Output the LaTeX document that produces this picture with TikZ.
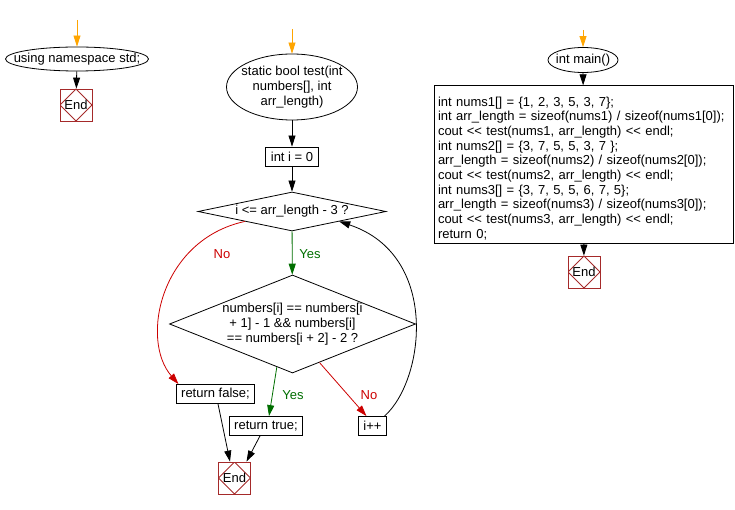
\documentclass[tikz,border=0pt]{standalone}
\usepackage{fontspec}
\setmainfont{Liberation Sans}
\usetikzlibrary{arrows.meta,shapes.geometric}
\definecolor{endred}{RGB}{165,42,42}
\definecolor{nored}{RGB}{204,0,0}
\definecolor{yesgreen}{RGB}{0,110,0}
\definecolor{startorange}{RGB}{255,165,0}

\begin{document}
\begin{tikzpicture}[x=1pt, y=-1pt, line width=0.8pt,
    every node/.style={font=\fontsize{13}{14.7}\selectfont},
    flow/.style={-{Triangle[length=11pt,width=7pt]}},
    startflow/.style={flow, draw=startorange},
    yesflow/.style={flow, draw=yesgreen},
    noflow/.style={flow, draw=nored},
    startell/.style={draw, ellipse, inner sep=0pt},
    procbox/.style={draw, rectangle, inner xsep=5pt, inner ysep=0pt, minimum height=19pt},
    decision/.style={draw, diamond, inner sep=0pt},
    endbox/.style={draw=endred, rectangle, minimum size=32pt, inner sep=0pt,
      path picture={\draw[endred] (path picture bounding box.north) -- (path picture bounding box.east)
        -- (path picture bounding box.south) -- (path picture bounding box.west) -- cycle;}},
    yeslbl/.style={text=yesgreen},
    nolbl/.style={text=nored}]
  \useasboundingbox (0,0) rectangle (735,510);

  % using namespace std
  \coordinate (s1) at (77,20);
  \node[startell, inner xsep=-14pt, minimum width=143pt, minimum height=24pt] (ns) at (77,59) {using namespace std;};
  \node[endbox] (end1) at (76,105) {End};
  \draw[startflow] (s1) -- (ns);
  \draw[flow] (ns) -- (end1);

  % test()
  \coordinate (s2) at (292,29);
  \node[startell, inner xsep=-10pt, minimum width=131pt, minimum height=66pt, align=center] (test) at (292,87)
    {static bool test(int\\numbers[], int\\arr\_length)};
  \node[procbox] (init) at (292,156.5) {int i = 0};
  \node[decision, aspect=4.8, minimum width=188pt, minimum height=39pt] (loop) at (292,211.5)
    {i <= arr\_length - 3 ?};
  \node[decision, aspect=2.5, minimum width=246pt, minimum height=98pt, align=center] (check) at (292.5,324)
    {numbers[i] == numbers[i\\+ 1] - 1 \&\& numbers[i]\\== numbers[i + 2] - 2 ?};
  \node[procbox] (falseret) at (215.5,394) {return false;};
  \node[procbox] (trueret) at (266,426) {return true;};
  \node[procbox] (incr) at (372.5,426) {i++};
  \node[endbox] (end2) at (234.5,478) {End};
  \node[yeslbl] (yes1) at (310,254) {Yes};
  \node[nolbl] (no1) at (222,254) {No};
  \node[yeslbl] (yes2) at (293,395) {Yes};
  \node[nolbl] (no2) at (369,395) {No};

  \draw[startflow] (s2) -- (test);
  \draw[flow] (test) -- (init);
  \draw[flow] (init) -- (loop);
  \draw[yesflow] (loop) -- (check);
  \draw[noflow] (loop.south west) .. controls (160,240) and (140,340) .. ([xshift=-37pt]falseret.north);
  \draw[yesflow] (check.250) -- ([xshift=3pt]trueret.north);
  \draw[noflow] (check.-55) -- ([xshift=-6pt]incr.north);
  \draw[flow] ([xshift=12pt]incr.north) .. controls (425,380) and (440,255) .. (loop.south east);
  \draw[flow] ([xshift=2.5pt]falseret.south) -- ([xshift=-4.5pt]end2.north);
  \draw[flow] ([xshift=-6pt]trueret.south) -- ([xshift=12pt]end2.north);

  % main()
  \coordinate (s3) at (583,30);
  \node[startell, inner xsep=-4pt, minimum width=70pt, minimum height=25pt] (main) at (583,60) {int main()};
  \node[draw, rectangle, align=left, text width=291pt, inner xsep=4pt, minimum height=153pt] (body) at (583.5,164.5)
    {\rule{0pt}{17pt}int nums1[] = \{1, 2, 3, 5, 3, 7\};\\
     int arr\_length = sizeof(nums1) / sizeof(nums1[0]);\\
     cout {<}{<} test(nums1, arr\_length) {<}{<} endl;\\
     int nums2[] = \{3, 7, 5, 5, 3, 7 \};\\
     arr\_length = sizeof(nums2) / sizeof(nums2[0]);\\
     cout {<}{<} test(nums2, arr\_length) {<}{<} endl;\\
     int nums3[] = \{3, 7, 5, 5, 6, 7, 5\};\\
     arr\_length = sizeof(nums3) / sizeof(nums3[0]);\\
     cout {<}{<} test(nums3, arr\_length) {<}{<} endl;\\
     return 0;};
  \node[endbox] (end3) at (584,272) {End};
  \draw[startflow] (s3) -- (main);
  \draw[flow] (main) -- (body);
  \draw[flow] (body) -- (end3);
\end{tikzpicture}
\end{document}
